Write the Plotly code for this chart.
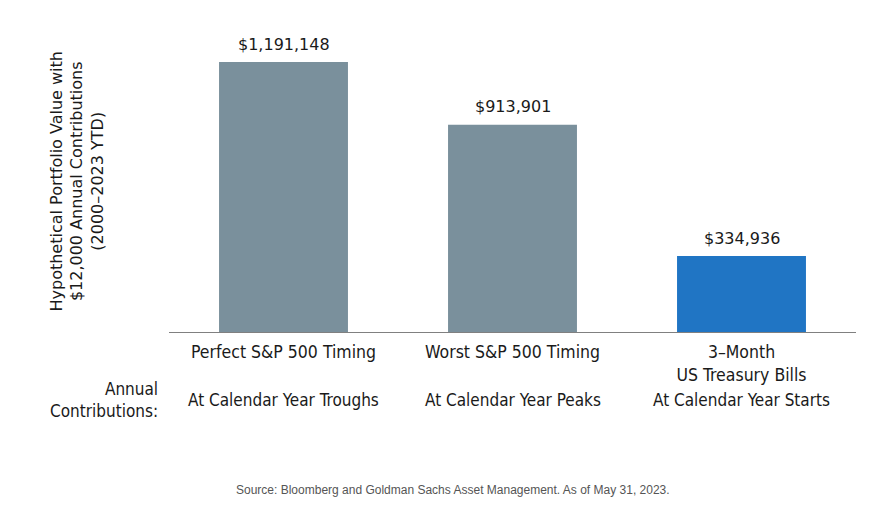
import plotly.graph_objects as go

categories = ["Perfect S&P 500 Timing", "Worst S&P 500 Timing", "3–Month<br>US Treasury Bills"]
values = [1191148, 913901, 334936]
value_labels = ["$1,191,148", "$913,901", "$334,936"]
contributions = ["At Calendar Year Troughs", "At Calendar Year Peaks", "At Calendar Year Starts"]
colors = ["#7a909c", "#7a909c", "#2075c4"]

label_font = "Liberation Sans Narrow, DejaVu Sans Condensed, Liberation Sans, sans-serif"
dark = "#1a1a1a"

fig = go.Figure()
fig.add_trace(go.Bar(
    x=categories, y=values, marker=dict(color=colors, line=dict(width=0)),
    width=0.563, hoverinfo="skip",
))

# value labels above the bars
for c, v, t in zip(categories, values, value_labels):
    fig.add_annotation(x=c, xref="x", y=v, yref="y", yanchor="middle", yshift=18,
                       text=t, showarrow=False,
                       font=dict(family="DejaVu Sans", size=16, color=dark))

# annual contributions row
for c, t in zip(categories, contributions):
    fig.add_annotation(x=c, xref="x", y=0, yref="paper", yanchor="middle", yshift=-68,
                       text=t, showarrow=False,
                       font=dict(family=label_font, size=17, color=dark))

fig.add_annotation(x=0, xref="paper", xshift=-9, y=0, yref="paper", yshift=-68,
                   xanchor="right", yanchor="middle", align="right",
                   text="Annual<br>Contributions:", showarrow=False,
                   font=dict(family=label_font, size=17, color=dark))

# y axis title
fig.add_annotation(x=0, xref="paper", xshift=-92, y=(332 - 181.5) / 312, yref="paper",
                   textangle=-90, xanchor="center", yanchor="middle",
                   text="Hypothetical Portfolio Value with<br>$12,000 Annual Contributions<br>(2000–2023 YTD)",
                   showarrow=False, font=dict(family="DejaVu Sans", size=16, color=dark))

# source note
fig.add_annotation(x=(453 - 169) / 687, xref="paper", y=0, yref="paper", yshift=-158,
                   xanchor="center", yanchor="middle",
                   text="Source: Bloomberg and Goldman Sachs Asset Management. As of May 31, 2023.",
                   showarrow=False, font=dict(family="Liberation Sans, Arial", size=12, color="#555555"))

fig.update_layout(
    width=883, height=509,
    margin=dict(l=161, r=35, t=12, b=185),
    paper_bgcolor="white", plot_bgcolor="white",
    showlegend=False,
    xaxis=dict(showline=True, linecolor="#808080", linewidth=1, ticks="",
               ticklabelstandoff=4,
               tickfont=dict(family=label_font, size=17.5, color=dark),
               range=[-0.5, 2.5], fixedrange=True),
    yaxis=dict(range=[0, 1376437], showgrid=False, showticklabels=False,
               zeroline=False, showline=False, ticks="", fixedrange=True),
)

fig.write_html("out.html")
